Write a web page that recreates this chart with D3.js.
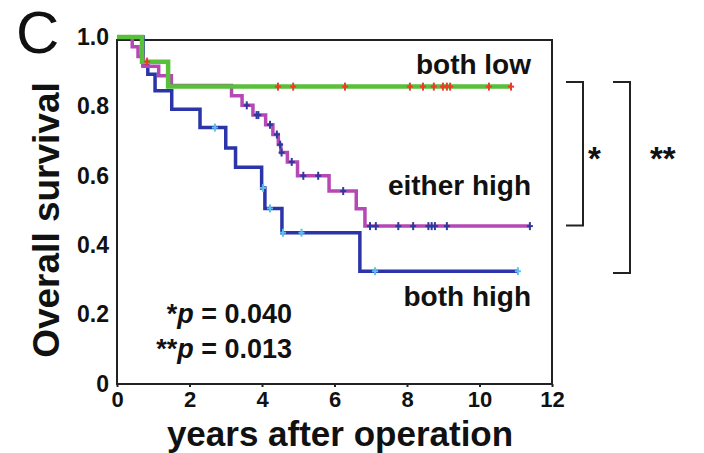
<!DOCTYPE html>
<html>
<head>
<script src="https://cdn.jsdelivr.net/npm/d3@7"></script>
<style>
  body { margin: 0; background: #fff; }
  text { font-family: "Liberation Sans", Arial, sans-serif; fill: #111; }
</style>
</head>
<body>
<div id="chart"></div>
<script>
// survival step curves: [years, survival]
var lowSteps = [[0, 1], [0.69, 0.929], [1.41, 0.857]];
var lowEnd = 10.87;
var lowCensor = [0.83, 4.44, 4.86, 6.29, 8.08, 8.44, 8.74, 8.99, 9.10, 9.19, 10.26, 10.87];

var eitherSteps = [[0, 1], [0.42, 0.972], [0.58, 0.944], [0.72, 0.916], [1.15, 0.888], [1.5, 0.86],
  [3.16, 0.831], [3.45, 0.803], [3.75, 0.775], [4.1, 0.747], [4.3, 0.719], [4.45, 0.69],
  [4.52, 0.667], [4.7, 0.64], [4.98, 0.6], [5.85, 0.556], [6.6, 0.505], [6.84, 0.455]];
var eitherEnd = 11.39;
var eitherCensor = [3.58, 3.85, 3.9, 4.22, 4.41, 4.5, 4.54, 4.82, 5.14, 5.55, 6.24,
  6.98, 7.14, 7.76, 8.17, 8.59, 8.68, 8.77, 9.10, 11.39];

var highSteps = [[0, 1], [0.72, 0.917], [0.85, 0.893], [1.05, 0.845], [1.51, 0.792], [2.29, 0.739],
  [3.0, 0.68], [3.27, 0.625], [3.99, 0.565], [4.08, 0.506], [4.55, 0.436], [6.7, 0.325]];
var highEnd = 11.06;
var highCensor = [2.70, 4.03, 4.22, 4.58, 5.09, 7.12, 11.06];

var xTicks = [0, 2, 4, 6, 8, 10, 12];
var yTicks = [0, 0.2, 0.4, 0.6, 0.8, 1.0];

var svg = d3.select("#chart").append("svg")
  .attr("width", 704)
  .attr("height", 453);

var x = d3.scaleLinear().domain([0, 12]).range([117, 552]);
var y = d3.scaleLinear().domain([0, 1]).range([384, 37]);

// frame
svg.append("rect")
  .attr("x", x(0)).attr("y", y(1) + 3)
  .attr("width", x(12) - x(0)).attr("height", y(0) - y(1) - 3)
  .attr("fill", "none").attr("stroke", "#222").attr("stroke-width", 2);

var xAxis = svg.append("g")
  .attr("transform", "translate(0," + y(0) + ")")
  .call(d3.axisBottom(x).tickValues(xTicks).tickSize(3).tickPadding(4).tickFormat(d3.format("d")));
xAxis.select(".domain").remove();
xAxis.selectAll("line").attr("stroke", "#222").attr("stroke-width", 2);
xAxis.selectAll("text").style("font-size", "22px").style("font-weight", "bold").attr("fill", "#111");

var yAxis = svg.append("g")
  .attr("transform", "translate(" + x(0) + ",0)")
  .call(d3.axisLeft(y).tickValues(yTicks).tickSize(0).tickPadding(8)
    .tickFormat(function(d) { return d === 0 ? "0" : d3.format(".1f")(d); }));
yAxis.select(".domain").remove();
yAxis.selectAll("text").style("font-size", "23px").style("font-weight", "bold").attr("fill", "#111");

function valueAt(steps, t) {
  var v = steps[0][1];
  for (var i = 0; i < steps.length; i++) {
    if (steps[i][0] <= t) v = steps[i][1];
  }
  return v;
}

var line = d3.line()
  .x(function(d) { return x(d[0]); })
  .y(function(d) { return y(d[1]); })
  .curve(d3.curveStepAfter);

function drawCurve(steps, end, censor, color, markColor, width) {
  var pts = steps.concat([[end, steps[steps.length - 1][1]]]);
  svg.append("path")
    .attr("d", line(pts))
    .attr("fill", "none")
    .attr("stroke", color)
    .attr("stroke-width", width);

  var g = svg.append("g");
  censor.forEach(function(t) {
    var cx = x(t), cy = y(valueAt(steps, t));
    g.append("line").attr("x1", cx).attr("x2", cx).attr("y1", cy - 4).attr("y2", cy + 4)
      .attr("stroke", markColor).attr("stroke-width", 2);
    g.append("line").attr("x1", cx - 3).attr("x2", cx + 3).attr("y1", cy).attr("y2", cy)
      .attr("stroke", markColor).attr("stroke-width", 2);
  });
}

drawCurve(highSteps, highEnd, highCensor, "#2b34a8", "#5bc0ec", 3.5);
drawCurve(eitherSteps, eitherEnd, eitherCensor, "#b548b5", "#2b3a9c", 3.5);
drawCurve(lowSteps, lowEnd, lowCensor, "#58c03a", "#ee3a2a", 4.5);

// curve labels
svg.append("text").attr("x", 531).attr("y", 74).attr("text-anchor", "end")
  .style("font-size", "28px").style("font-weight", "bold").text("both low");
svg.append("text").attr("x", 531).attr("y", 195).attr("text-anchor", "end")
  .style("font-size", "28px").style("font-weight", "bold").text("either high");
svg.append("text").attr("x", 531).attr("y", 306).attr("text-anchor", "end")
  .style("font-size", "28px").style("font-weight", "bold").text("both high");

// p values
var p1 = svg.append("text").attr("x", 292).attr("y", 323).attr("text-anchor", "end")
  .style("font-size", "27px").style("font-weight", "bold");
p1.append("tspan").text("*");
p1.append("tspan").style("font-style", "italic").text("p");
p1.append("tspan").text(" = 0.040");
var p2 = svg.append("text").attr("x", 292).attr("y", 358).attr("text-anchor", "end")
  .style("font-size", "27px").style("font-weight", "bold");
p2.append("tspan").text("**");
p2.append("tspan").style("font-style", "italic").text("p");
p2.append("tspan").text(" = 0.013");

// significance brackets
function bracket(xr, v1, v2, label, lx) {
  svg.append("path")
    .attr("d", "M" + (xr - 17) + "," + y(v1) + "H" + xr + "V" + y(v2) + "H" + (xr - 17))
    .attr("fill", "none").attr("stroke", "#222").attr("stroke-width", 2);
  svg.append("text").attr("x", lx).attr("y", 170)
    .style("font-size", "33px").style("font-weight", "bold").text(label);
}
bracket(583, 0.87, 0.457, "*", 588);
bracket(630, 0.87, 0.32, "**", 650);

// axis titles
svg.append("text").attr("x", 340).attr("y", 446).attr("text-anchor", "middle")
  .style("font-size", "35px").style("font-weight", "bold").text("years after operation");
svg.append("text").attr("transform", "translate(59,220) rotate(-90)").attr("text-anchor", "middle")
  .style("font-size", "37px").style("font-weight", "bold").text("Overall survival");

// panel letter
svg.append("text").attr("x", 16).attr("y", 53)
  .style("font-size", "60px").text("C");
</script>
</body>
</html>
